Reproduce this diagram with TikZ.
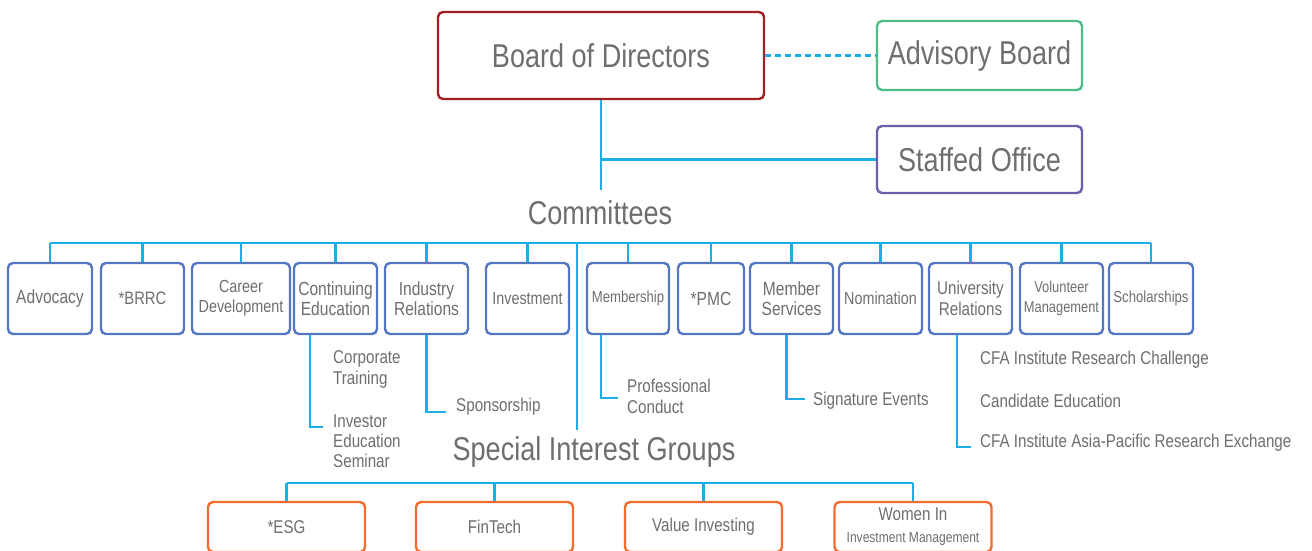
\documentclass[tikz,border=0pt]{standalone}
\usepackage{fontspec}
\setmainfont{Liberation Sans}[FakeStretch=0.82]
\definecolor{txt}{HTML}{6D6E71}
\definecolor{conn}{HTML}{1CAEE4}
\definecolor{cbord}{HTML}{5576C0}
\definecolor{bordred}{HTML}{A31F24}
\definecolor{bordgreen}{HTML}{4DBF84}
\definecolor{bordpurple}{HTML}{6A60AA}
\definecolor{bordorange}{HTML}{F26B2F}
\tikzset{
  box/.style={draw, rounded corners=5pt, line width=2.4pt, inner sep=0pt, align=center, text=txt},
  cbox/.style={box, draw=cbord, minimum height=71pt, font=\fontsize{19}{20.5}\selectfont},
  sbox/.style={box, draw=bordorange, minimum width=157pt, minimum height=50pt, font=\fontsize{18.5}{22}\selectfont},
  bigbox/.style={box, font=\fontsize{33}{36}\selectfont},
  wire/.style={draw=conn, line width=2.4pt},
  sub/.style={anchor=west, inner sep=0pt, align=left, text=txt, font=\fontsize{18.5}{20.5}\selectfont},
  head/.style={inner sep=0pt, text=txt, font=\fontsize{33}{36}\selectfont}
}
\begin{document}
\begin{tikzpicture}[x=1pt,y=-1pt]
\useasboundingbox (0,0) rectangle (1312,550);
\clip (0,0) rectangle (1312,550);
% top level
\node[bigbox, draw=bordred, minimum width=326pt, minimum height=87pt] (board) at (601,55.5) {Board of Directors};
\node[bigbox, draw=bordgreen, minimum width=205pt, minimum height=69pt] (adv) at (979.5,55.5) {Advisory Board};
\node[bigbox, draw=bordpurple, minimum width=205pt, minimum height=67pt] (staff) at (979.5,159.5) {Staffed Office};
\node[head] (comm) at (600,213) {Committees};
\coordinate (commtop) at (601,190);
\draw[draw=conn, line width=2.2pt, dash pattern=on 6pt off 4pt] (board.east) -- (adv.west);
\draw[wire] (board.south) -- (commtop);
\draw[wire] (board.south |- staff.west) -- (staff.west);
% committees
\node[cbox, minimum width=84pt] (c1) at (50,298.5) {Advocacy};
\node[cbox, minimum width=83pt, font=\fontsize{18}{20}\selectfont] (c2) at (142.5,298.5) {*BRRC};
\node[cbox, minimum width=98pt, font=\fontsize{17.5}{20}\selectfont] (c3) at (241,298.5) {Career\\Development};
\node[cbox, minimum width=83pt] (c4) at (335.5,298.5) {Continuing\\Education};
\node[cbox, minimum width=83pt] (c5) at (426.5,298.5) {Industry\\Relations};
\node[cbox, minimum width=83pt, font=\fontsize{17.5}{20}\selectfont] (c6) at (527.5,298.5) {Investment};
\node[cbox, minimum width=82pt, font=\fontsize{16}{20}\selectfont] (c7) at (628,298.5) {Membership};
\node[cbox, minimum width=66pt] (c8) at (711,298.5) {*PMC};
\node[cbox, minimum width=83pt] (c9) at (791.5,298.5) {Member\\Services};
\node[cbox, minimum width=83pt, font=\fontsize{17.5}{20}\selectfont] (c10) at (880.5,298.5) {Nomination};
\node[cbox, minimum width=83pt, font=\fontsize{18.5}{20.5}\selectfont] (c11) at (970.5,298.5) {University\\Relations};
\node[cbox, minimum width=83pt, font=\fontsize{15.7}{20}\selectfont] (c12) at (1061.5,298.5) {Volunteer\\Management};
\node[cbox, minimum width=84pt, font=\fontsize{16}{20}\selectfont] (c13) at (1151,298.5) {Scholarships};
\coordinate (bus) at (0,243);
\draw[wire] (c1.north |- bus) -- (c13.north |- bus);
\foreach \n in {c1,c2,c3,c4,c5,c6,c7,c8,c9,c10,c11,c12,c13}
  \draw[wire] (\n.north) -- (\n.north |- bus);
% sub items
\node[sub] (ct) at (333,369.5) {Corporate\\Training};
\node[sub, font=\fontsize{18.5}{20}\selectfont] (ies) at (333,441) {Investor\\Education\\Seminar};
\coordinate (ceEnd) at (323,427);
\draw[wire] ([xshift=-25.5pt]c4.south) |- (ceEnd);
\node[sub] (spon) at (456,407) {Sponsorship};
\coordinate (inEnd) at (446,412);
\draw[wire] (c5.south) |- (inEnd);
\node[sub] (pc) at (627,396.5) {Professional\\Conduct};
\coordinate (meEnd) at (618,398);
\draw[wire] ([xshift=-27pt]c7.south) |- (meEnd);
\node[sub] (se) at (813,401) {Signature Events};
\coordinate (msEnd) at (805,399);
\draw[wire] ([xshift=-5pt]c9.south) |- (msEnd);
\node[sub] (u1) at (980,360) {CFA Institute Research Challenge};
\node[sub] (u2) at (980,401) {Candidate Education};
\node[sub] (u3) at (980,443) {CFA Institute Asia-Pacific Research Exchange};
\coordinate (unEnd) at (971,447);
\draw[wire] ([xshift=-13.5pt]c11.south) |- (unEnd);
% special interest groups
\coordinate (busmid) at (577,243);
\coordinate (sigtop) at (577,430);
\draw[wire] (busmid) -- (sigtop);
\node[head] (sig) at (594,452) {Special Interest Groups};
\node[sbox] (s1) at (286.5,527) {*ESG};
\node[sbox] (s2) at (494.5,527) {FinTech};
\node[sbox] (s3) at (703.5,527) {Value Investing};
\node[sbox] (s4) at (913,527) {Women In\\{\fontsize{14.7}{16}\selectfont Investment Management}};
\coordinate (sbus) at (0,483);
\draw[wire] (s1.north |- sbus) -- (s4.north |- sbus);
\foreach \n in {s1,s2,s3,s4}
  \draw[wire] (\n.north) -- (\n.north |- sbus);
\end{tikzpicture}
\end{document}
